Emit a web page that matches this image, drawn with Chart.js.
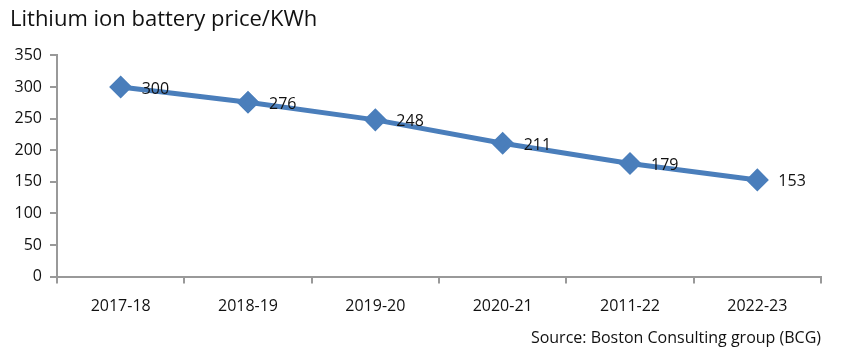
<!DOCTYPE html>
<html><head><meta charset="utf-8">
<script src="https://cdn.jsdelivr.net/npm/chart.js@4/dist/chart.umd.min.js"></script>
<style>html,body{margin:0;padding:0;background:#fff}#wrap{width:844px;height:356px;position:relative}</style>
</head><body><div id="wrap"><canvas id="c" width="844" height="356"></canvas></div>
<script>
const categories = ["2017-18","2018-19","2019-20","2020-21","2011-22","2022-23"];
const prices = [300,276,248,211,179,153];
const yTicks = [0,50,100,150,200,250,300,350];
const titleText = "Lithium ion battery price/KWh";
const sourceText = "Source: Boston Consulting group (BCG)";

const FONT = "'Open Sans', sans-serif";
const valueLabels = {
  id: 'valueLabels',
  afterDatasetsDraw(chart){
    const ctx = chart.ctx;
    const meta = chart.getDatasetMeta(0);
    ctx.save();
    ctx.font = "16px " + FONT;
    ctx.fillStyle = "#111";
    ctx.textAlign = "left";
    ctx.textBaseline = "middle";
    meta.data.forEach((pt,i)=>{
      ctx.fillText(String(chart.data.datasets[0].data[i]), pt.x + 21, pt.y + 2);
    });
    ctx.restore();
  }
};

new Chart(document.getElementById('c'), {
  type: 'line',
  data: {
    labels: categories,
    datasets: [{
      data: prices,
      borderColor: '#4a7ebb',
      backgroundColor: '#4a7ebb',
      borderWidth: 5,
      pointStyle: 'rectRot',
      pointRadius: 8,
      pointHoverRadius: 8,
      tension: 0
    }]
  },
  options: {
    responsive: false,
    animation: false,
    devicePixelRatio: 1,
    layout: { padding: { left: 10, right: 23, top: 0, bottom: 8 } },
    plugins: {
      legend: { display: false },
      tooltip: { enabled: false },
      title: {
        display: true, text: titleText, align: 'start',
        color: '#111', font: { family: FONT, size: 22, weight: 'normal' },
        padding: { top: 7, bottom: 22 }
      },
      subtitle: {
        display: true, text: sourceText, position: 'bottom', align: 'end',
        color: '#111', font: { family: FONT, size: 16, weight: 'normal' },
        padding: { top: 0, bottom: 0 }
      }
    },
    scales: {
      x: {
        offset: true,
        grid: { display: true, drawOnChartArea: false, offset: true, tickLength: 7, color: '#999', lineWidth: 2 },
        border: { display: true, color: '#999', width: 2 },
        ticks: { color: '#111', font: { family: FONT, size: 16 }, padding: 13, maxRotation: 0 }
      },
      y: {
        min: 0, max: 350,
        afterBuildTicks(scale){ scale.ticks = yTicks.map(v=>({value:v})); },
        afterFit(scale){ scale.width = 47; },
        grid: { display: true, drawOnChartArea: false, tickLength: 7, color: '#999', lineWidth: 2 },
        border: { display: true, color: '#999', width: 2 },
        ticks: { color: '#111', font: { family: FONT, size: 16 }, padding: 8 }
      }
    }
  },
  plugins: [valueLabels]
});
</script></body></html>
